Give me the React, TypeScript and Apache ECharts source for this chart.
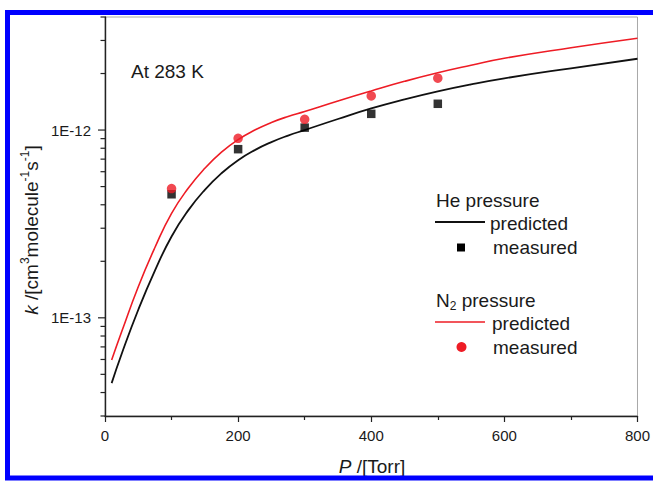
import React, { useEffect, useRef } from 'react';
import * as echarts from 'echarts';

// Predicted curves (pressure in Torr, k in cm3 molecule-1 s-1)
const predP = [10, 25, 50, 75, 100, 125, 150, 175, 200, 225, 250, 275, 300, 350, 400, 450, 500, 550, 600, 700, 800];
const hePredK = [4.49e-14, 6.42e-14, 1.104e-13, 1.784e-13, 2.711e-13, 3.734e-13, 4.806e-13, 5.889e-13, 6.911e-13, 7.817e-13, 8.626e-13, 9.345e-13, 1.0e-12, 1.145e-12, 1.303e-12, 1.456e-12, 1.607e-12, 1.751e-12, 1.885e-12, 2.133e-12, 2.397e-12];
const n2PredK = [5.96e-14, 8.42e-14, 1.465e-13, 2.368e-13, 3.599e-13, 4.896e-13, 6.26e-13, 7.627e-13, 8.896e-13, 1.0e-12, 1.097e-12, 1.181e-12, 1.256e-12, 1.429e-12, 1.616e-12, 1.817e-12, 2.018e-12, 2.213e-12, 2.412e-12, 2.745e-12, 3.085e-12];

// Measured points
const measP = [100, 200, 300, 400, 500];
const heMeasK = [4.55e-13, 7.91e-13, 1.03e-12, 1.22e-12, 1.38e-12];
const n2MeasK = [4.88e-13, 9.03e-13, 1.14e-12, 1.52e-12, 1.89e-12];

// Axis ticks
const yMajorTicks = [1e-13, 1e-12];
const yMinorTicks = [
  3e-14, 4e-14, 5e-14, 6e-14, 7e-14, 8e-14, 9e-14,
  2e-13, 3e-13, 4e-13, 5e-13, 6e-13, 7e-13, 8e-13, 9e-13,
  2e-12, 3e-12, 4e-12,
];

const FONT = '"Liberation Sans", Arial, Helvetica, sans-serif';
const TXT = '#1a1a1a';
const RED = '#ee1c25';

export default function App() {
  const ref = useRef<HTMLDivElement>(null);

  useEffect(() => {
    if (!ref.current) return;
    const chart = echarts.init(ref.current, undefined, { renderer: 'svg' });

    const tickData = [
      ...yMajorTicks.map((v) => [0, v, 7]),
      ...yMinorTicks.map((v) => [0, v, 4.5]),
    ];

    const option: any = {
      animation: false,
      backgroundColor: '#ffffff',
      grid: {
        left: 105,
        right: 13,
        top: 17,
        bottom: 65,
        show: true,
        borderColor: '#a8a8a8',
        borderWidth: 1,
        backgroundColor: 'transparent',
      },
      xAxis: {
        type: 'value',
        min: 0,
        max: 800,
        interval: 200,
        axisLine: { onZero: false, lineStyle: { color: '#222', width: 1.4 } },
        axisTick: { show: true, length: 6, lineStyle: { color: '#222', width: 1.2 } },
        minorTick: { show: true, splitNumber: 2, length: 4, lineStyle: { color: '#222', width: 1.2 } },
        splitLine: { show: false },
        minorSplitLine: { show: false },
        axisLabel: { fontSize: 15, color: TXT, fontFamily: FONT, margin: 12 },
      },
      yAxis: {
        type: 'log',
        logBase: 10,
        min: 3e-14,
        max: 4e-12,
        axisLine: { show: true, lineStyle: { color: '#222', width: 1.4 } },
        axisTick: { show: false },
        splitLine: { show: false },
        axisLabel: {
          fontSize: 15,
          color: TXT,
          fontFamily: FONT,
          margin: 14,
          formatter: (value: number) => {
            const e = Math.log10(value);
            if (Math.abs(e - Math.round(e)) < 1e-6) return '1E' + Math.round(e);
            return '';
          },
        },
      },
      series: [
        {
          name: 'He predicted',
          type: 'line',
          data: predP.map((p, i) => [p, hePredK[i]]),
          showSymbol: false,
          smooth: 0.5,
          lineStyle: { color: '#111', width: 1.8 },
          z: 3,
        },
        {
          name: 'N2 predicted',
          type: 'line',
          data: predP.map((p, i) => [p, n2PredK[i]]),
          showSymbol: false,
          smooth: 0.5,
          lineStyle: { color: RED, width: 1.6 },
          z: 3,
        },
        {
          name: 'He measured',
          type: 'scatter',
          symbol: 'rect',
          symbolSize: 8.5,
          data: measP.map((p, i) => [p, heMeasK[i]]),
          itemStyle: { color: '#000' },
          z: 4,
        },
        {
          name: 'N2 measured',
          type: 'scatter',
          symbol: 'circle',
          symbolSize: 9.5,
          data: measP.map((p, i) => [p, n2MeasK[i]]),
          itemStyle: { color: RED },
          z: 4,
        },
        {
          name: 'y ticks',
          type: 'custom',
          encode: { x: 0, y: 1 },
          clip: false,
          silent: true,
          z: 5,
          data: tickData,
          renderItem: (params: any, api: any) => {
            const v = api.value(1);
            const len = api.value(2);
            const pt = api.coord([0, v]);
            return {
              type: 'line',
              shape: { x1: pt[0] - len, y1: pt[1], x2: pt[0], y2: pt[1] },
              style: { stroke: '#222', lineWidth: 1.2 },
            };
          },
        },
      ],
      graphic: [
        {
          type: 'rect',
          shape: { x: 7.5, y: 12.5, width: 690, height: 465.5 },
          style: { fill: 'none', stroke: '#0000ff', lineWidth: 5 },
          silent: true,
          z: 10,
        },
        {
          type: 'text',
          x: 131,
          y: 71,
          style: { text: 'At 283 K', fontSize: 19, fontFamily: FONT, fill: TXT, align: 'left', verticalAlign: 'middle' },
        },
        {
          type: 'text',
          x: 31,
          y: 230,
          rotation: Math.PI / 2,
          style: {
            text: '{it|k} {n|/[cm}{sup|3}{n|molecule}{sup|-1}{n|s}{sup|-1}{n|]}',
            align: 'center',
            verticalAlign: 'middle',
            fill: TXT,
            fontFamily: FONT,
            fontSize: 19,
            rich: {
              it: { fontStyle: 'italic', fontSize: 19, fontFamily: FONT, fill: TXT, lineHeight: 24 },
              n: { fontSize: 19, fontFamily: FONT, fill: TXT, lineHeight: 24 },
              sup: { fontSize: 12, fontFamily: FONT, fill: TXT, lineHeight: 12, verticalAlign: 'top' },
            },
          },
        },
        {
          type: 'text',
          x: 372,
          y: 466,
          style: {
            text: '{it|P} {n|/[Torr]}',
            align: 'center',
            verticalAlign: 'middle',
            fill: TXT,
            fontFamily: FONT,
            fontSize: 19,
            rich: {
              it: { fontStyle: 'italic', fontSize: 19, fontFamily: FONT, fill: TXT },
              n: { fontSize: 19, fontFamily: FONT, fill: TXT },
            },
          },
        },
        // He legend block
        {
          type: 'text',
          x: 436,
          y: 200,
          style: { text: 'He pressure', fontSize: 19, fontFamily: FONT, fill: TXT, align: 'left', verticalAlign: 'middle' },
        },
        {
          type: 'line',
          shape: { x1: 435, y1: 222, x2: 485, y2: 222 },
          style: { stroke: '#111', lineWidth: 1.8 },
        },
        {
          type: 'text',
          x: 490,
          y: 223,
          style: { text: 'predicted', fontSize: 19, fontFamily: FONT, fill: TXT, align: 'left', verticalAlign: 'middle' },
        },
        {
          type: 'rect',
          shape: { x: 457, y: 243.5, width: 8, height: 8 },
          style: { fill: '#000' },
        },
        {
          type: 'text',
          x: 493,
          y: 247,
          style: { text: 'measured', fontSize: 19, fontFamily: FONT, fill: TXT, align: 'left', verticalAlign: 'middle' },
        },
        // N2 legend block
        {
          type: 'text',
          x: 436,
          y: 300,
          style: {
            text: '{n|N}{sub|2}{n| pressure}',
            align: 'left',
            verticalAlign: 'middle',
            fill: TXT,
            fontFamily: FONT,
            fontSize: 19,
            rich: {
              n: { fontSize: 19, fontFamily: FONT, fill: TXT, lineHeight: 24 },
              sub: { fontSize: 12, fontFamily: FONT, fill: TXT, lineHeight: 12, verticalAlign: 'bottom' },
            },
          },
        },
        {
          type: 'line',
          shape: { x1: 435, y1: 322, x2: 485, y2: 322 },
          style: { stroke: RED, lineWidth: 1.6 },
        },
        {
          type: 'text',
          x: 492,
          y: 323,
          style: { text: 'predicted', fontSize: 19, fontFamily: FONT, fill: TXT, align: 'left', verticalAlign: 'middle' },
        },
        {
          type: 'circle',
          shape: { cx: 461.5, cy: 347, r: 5 },
          style: { fill: RED },
        },
        {
          type: 'text',
          x: 493,
          y: 347,
          style: { text: 'measured', fontSize: 19, fontFamily: FONT, fill: TXT, align: 'left', verticalAlign: 'middle' },
        },
      ],
    };

    chart.setOption(option);
    return () => chart.dispose();
  }, []);

  return (
    <div
      ref={ref}
      style={{ position: 'absolute', left: 0, top: 0, width: 653, height: 481, background: '#fff' }}
    />
  );
}
